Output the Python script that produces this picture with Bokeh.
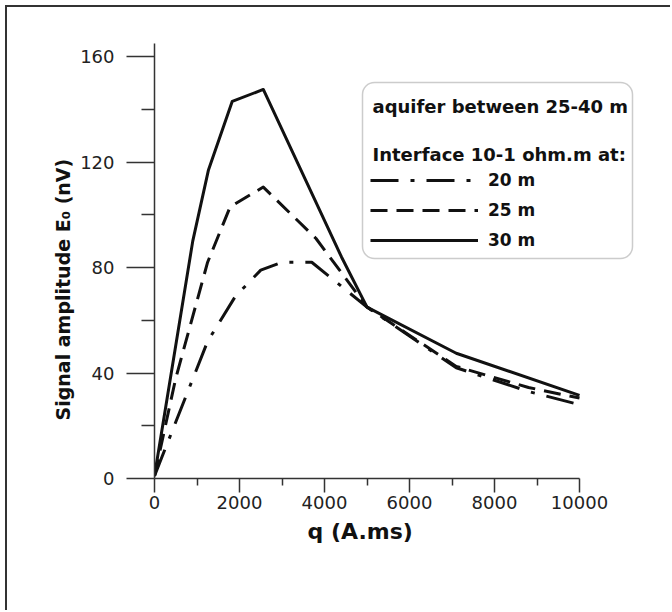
from bokeh.plotting import figure
from bokeh.models import Range1d, FixedTicker, Legend, LegendItem, Label, BoxAnnotation, Title
from bokeh.embed import file_html
from bokeh.resources import INLINE

# ---- data ----
q_30 = [0, 900, 1270, 1830, 2560, 4400, 5000, 7100, 10000]
e_30 = [1, 90, 117, 143, 147.5, 84, 65, 47.5, 31.5]
q_25 = [0, 500, 1250, 1780, 2560, 3800, 5000, 7100, 8800, 10000]
e_25 = [1, 38, 82, 103, 110.5, 91, 65, 42.5, 34.5, 30.5]
q_20 = [0, 1250, 1900, 2500, 3000, 3700, 5000, 7100, 8800, 10000]
e_20 = [1, 52, 69, 79, 82, 82, 65, 42, 33, 28]

x_ticks = [0, 2000, 4000, 6000, 8000, 10000]
x_minor = [1000, 3000, 5000, 7000, 9000]
y_ticks = [0, 40, 80, 120, 160]
y_minor = [20, 60, 100, 140]

legend_labels = ["20 m", "25 m", "30 m"]
header_1 = "aquifer between 25-40 m"
header_2 = "Interface 10-1 ohm.m at:"
x_label = "q (A.ms)"
y_label = "Signal amplitude E\u2080 (nV)"

# ---- layout (page pixels) ----
SHIFT = 7                      # css margin + border
FRAME_L, FRAME_R = 154, 645
FRAME_T, FRAME_B = 43, 478
PX_PER_Q = 425 / 10000.0
PX_PER_E = 422 / 160.0

W, H = 672 - SHIFT, 612 - SHIFT


def xd(px):
    return (px - FRAME_L) / PX_PER_Q


def yd(py):
    return (FRAME_B - py) / PX_PER_E


p = figure(width=W, height=H, output_backend="svg", toolbar_location=None,
           x_range=Range1d(0, xd(FRAME_R)), y_range=Range1d(0, yd(FRAME_T)),
           min_border_left=FRAME_L - SHIFT, min_border_right=672 - FRAME_R,
           min_border_top=FRAME_T - SHIFT, min_border_bottom=612 - FRAME_B)
p.styles = {"border-top": "2px solid #333", "border-left": "2px solid #333",
            "margin-top": "5px", "margin-left": "5px"}
p.outline_line_color = None
p.background_fill_color = "white"
p.border_fill_color = "white"
p.xgrid.visible = False
p.ygrid.visible = False

FONT = "DejaVu Sans"
for ax in (p.xaxis[0], p.yaxis[0]):
    ax.axis_line_color = "#333"
    ax.axis_line_width = 1.5
    ax.major_tick_line_color = "#333"
    ax.major_tick_line_width = 1.5
    ax.minor_tick_line_color = "#333"
    ax.minor_tick_line_width = 1.5
    ax.major_tick_in = 0
    ax.minor_tick_in = 0
    ax.major_label_text_font = FONT
    ax.major_label_text_font_size = "18px"
    ax.major_label_text_color = "#222"

p.yaxis.major_tick_out = 28
p.yaxis.minor_tick_out = 13
p.xaxis.major_tick_out = 14
p.xaxis.minor_tick_out = 7

p.xaxis.ticker = FixedTicker(ticks=x_ticks, minor_ticks=x_minor)
p.yaxis.ticker = FixedTicker(ticks=y_ticks, minor_ticks=y_minor)
p.xaxis.bounds = (0, 10000)
p.xaxis.major_label_standoff = 3
p.yaxis.major_label_standoff = 12

# axis titles (placed as side titles so they can be offset like the reference)
p.add_layout(Title(text=x_label, align="left", offset=153, standoff=10,
                   text_font=FONT, text_font_style="bold", text_font_size="22px",
                   text_color="#111"), "below")
p.add_layout(Title(text=y_label, align="left", offset=58, standoff=8,
                   text_font=FONT, text_font_style="bold", text_font_size="19px",
                   text_color="#111"), "left")

# ---- series ----
r20 = p.line(q_20, e_20, line_width=3, line_color="#111", line_dash="28 12 4 12", line_join="round")
r25 = p.line(q_25, e_25, line_width=3, line_color="#111", line_dash="17 9", line_join="round")
r30 = p.line(q_30, e_30, line_width=3, line_color="#111", line_join="round")

# ---- legend box ----
box = BoxAnnotation(left=xd(362), right=xd(632), top=yd(82), bottom=yd(258),
                    fill_color="white", fill_alpha=1.0, line_color="#555",
                    line_width=1.5, border_radius=12)
p.add_layout(box)

p.add_layout(Label(x=xd(372), y=yd(106), text=header_1, text_baseline="middle",
                   text_font=FONT, text_font_style="bold", text_font_size="18px",
                   text_color="#111"))
p.add_layout(Label(x=xd(372), y=yd(154), text=header_2, text_baseline="middle",
                   text_font=FONT, text_font_style="bold", text_font_size="18px",
                   text_color="#111"))

legend = Legend(items=[LegendItem(label=legend_labels[0], renderers=[r20]),
                       LegendItem(label=legend_labels[1], renderers=[r25]),
                       LegendItem(label=legend_labels[2], renderers=[r30])],
                location=(370 - FRAME_L, FRAME_B - 250),
                glyph_width=108, glyph_height=20, label_height=20, spacing=10,
                padding=0, margin=0, label_standoff=10,
                border_line_color=None, background_fill_alpha=0,
                label_text_font=FONT, label_text_font_style="bold",
                label_text_font_size="17px", label_text_color="#111")
p.add_layout(legend, "center")

open("out.html", "w").write(file_html(p, INLINE))
